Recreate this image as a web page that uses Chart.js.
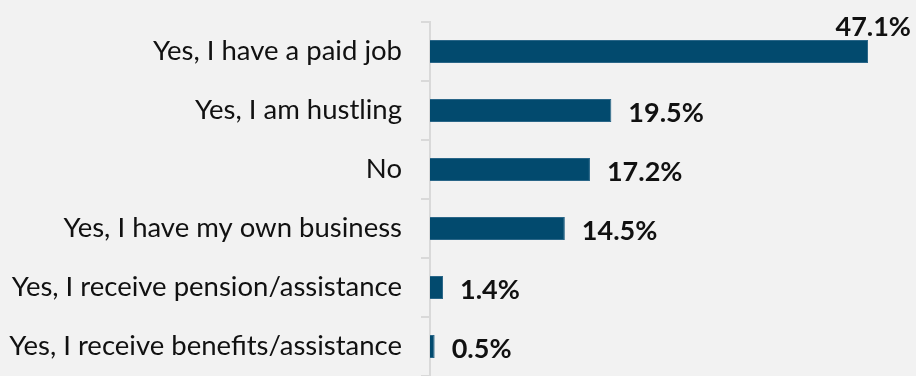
<!DOCTYPE html>
<html>
<head>
<meta charset="utf-8">
<script src="https://cdn.jsdelivr.net/npm/chart.js@4"></script>
<style>
  html, body { margin: 0; padding: 0; background: #f2f2f2; }
  #wrap { width: 916px; height: 376px; }
</style>
</head>
<body>
<div id="wrap"><canvas id="workChart"></canvas></div>
<script>
// Answers and shares (%)
const answers = [
    'Yes, I have a paid job',
    'Yes, I am hustling',
    'No',
    'Yes, I have my own business',
    'Yes, I receive pension/assistance',
    'Yes, I receive benefits/assistance'
];
const shares = [47.1, 19.5, 17.2, 14.5, 1.4, 0.5];

const FONT = 'Lato, "Open Sans", sans-serif';

// Value labels: to the right of each bar, or above the bar end when there is no room
const valueLabels = {
    id: 'valueLabels',
    afterDatasetsDraw(chart) {
        const ctx = chart.ctx;
        const meta = chart.getDatasetMeta(0);
        ctx.save();
        ctx.font = 'bold 27px ' + FONT;
        ctx.fillStyle = '#111111';
        ctx.textBaseline = 'middle';
        meta.data.forEach((bar, i) => {
            const text = shares[i].toFixed(1) + '%';
            const w = ctx.measureText(text).width;
            if (bar.x + 17 + w > chart.width - 6) {
                ctx.textAlign = 'right';
                ctx.fillText(text, chart.width - 5, bar.y - bar.height / 2 - 13);
            } else {
                ctx.textAlign = 'left';
                ctx.fillText(text, bar.x + 17, bar.y + 3);
            }
        });
        ctx.restore();
    }
};

new Chart(document.getElementById('workChart').getContext('2d'), {
    type: 'bar',
    data: {
        labels: answers,
        datasets: [{
            data: shares,
            backgroundColor: '#024a6e',
            borderColor: '#2a6688',
            borderWidth: 1,
            barPercentage: 0.78,
            categoryPercentage: 0.5
        }]
    },
    options: {
        indexAxis: 'y',
        responsive: true,
        maintainAspectRatio: false,
        animation: false,
        layout: { padding: { top: 22, right: 21, bottom: 0, left: 0 } },
        plugins: {
            legend: { display: false },
            tooltip: { enabled: false }
        },
        scales: {
            x: {
                display: false,
                min: 0,
                max: 50
            },
            y: {
                afterFit(scale) {
                    scale.width = 430;
                    scale.paddingTop = 0;
                    scale.paddingBottom = 0;
                },
                grid: {
                    offset: true,
                    drawOnChartArea: false,
                    tickLength: 9,
                    color: '#d9d9d9',
                    lineWidth: 2
                },
                border: { color: '#d9d9d9', width: 2 },
                ticks: {
                    padding: 19,
                    color: '#111111',
                    font: { family: FONT, size: 27.5 }
                }
            }
        }
    },
    plugins: [valueLabels]
});
</script>
</body>
</html>
